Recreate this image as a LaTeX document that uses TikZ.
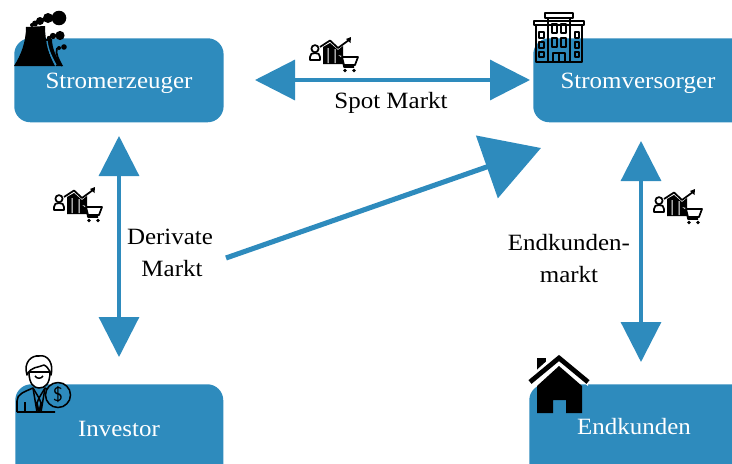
\documentclass[tikz,border=0pt]{standalone}
\usepackage{fontspec}
\setmainfont[FakeStretch=1.07]{Liberation Serif}
\usetikzlibrary{arrows.meta}
\definecolor{boxblue}{HTML}{2E8BBD}
\tikzset{
  x=0.75pt,y=-0.75pt,
  marketbox/.style={fill=boxblue,rounded corners=12pt,inner sep=0pt,anchor=north west},
  boxlabel/.style={text=white,font=\fontsize{17.5pt}{20pt}\selectfont,inner sep=0pt},
  blacklabel/.style={text=black,font=\fontsize{17.5pt}{20pt}\selectfont,inner sep=0pt},
  bigarrow/.style={draw=boxblue,line width=2.4pt,{Triangle[length=30pt,width=30pt,fill=boxblue]}-{Triangle[length=30pt,width=30pt,fill=boxblue]}},
  onearrow/.style={draw=boxblue,line width=3.8pt,-{Triangle[length=43pt,width=49pt,fill=boxblue]}},
  iconline/.style={draw=black,line width=1.15pt,line join=round},
  pics/market/.style={code={
    \draw[iconline,line width=1.3pt] (5,11.7) circle (3.6);
    \draw[iconline,line width=1.3pt] (0,23) -- (0,20) .. controls (0,17) and (2,16) .. (5,16) .. controls (8,16) and (10,17) .. (10,20) -- (10,23) -- cycle;
    \fill[black] (13,10) -- (20,6) -- (28,13) -- (33,9) -- (33,27) -- (13,27) -- cycle;
    \fill[white] (17.5,11) rectangle (18.5,26) (24.5,12) rectangle (25.5,26);
    \draw[iconline,line width=1.3pt] (10,10) -- (20,3.5) -- (28,11) -- (39,3);
    \fill[black] (41,0) -- (40.5,6) -- (36,2) -- cycle;
    \draw[iconline,line width=1.3pt,fill=white] (27,17) -- (32,18) -- (34,30) -- (44,30);
    \draw[iconline,line width=1.3pt,fill=white] (32,20) -- (48,20) -- (45,28) -- (34,28) -- cycle;
    \fill[black] (35,33.5) circle (1.9) (44,33.5) circle (1.9);
  }}
}
\begin{document}
\begin{tikzpicture}
\useasboundingbox (0,0) rectangle (732,464);
\clip (0,0) rectangle (732,464);
% boxes
\node[marketbox,minimum width=157pt,minimum height=63pt] (erz) at (14,38) {};
\node[marketbox,minimum width=165pt,minimum height=63pt] (ver) at (533,38) {};
\node[marketbox,minimum width=156pt,minimum height=75pt] (inv) at (15,384) {};
\node[marketbox,minimum width=168pt,minimum height=75pt] (end) at (529,384) {};
\node[boxlabel] (erzl) at (119,83) {Stromerzeuger};
\node[boxlabel] (verl) at (638,83) {Stromversorger};
\node[boxlabel] (invl) at (119,429) {Investor};
\node[boxlabel] (endl) at (634,427) {Endkunden};
% free connector ends
\coordinate (spotL) at (255,80);
\coordinate (spotR) at (530,80);
\coordinate (derT) at (119,136);
\coordinate (derB) at (119,357);
\coordinate (kunT) at (641,141);
\coordinate (kunB) at (641,362);
\coordinate (diaS) at (226,258);
\coordinate (diaE) at (541,148);
\draw[bigarrow] (spotL) -- (spotR);
\draw[bigarrow] (derT) -- (derB);
\draw[bigarrow] (kunT) -- (kunB);
\draw[onearrow] (diaS) -- (diaE);
% labels
\node[blacklabel] (spot) at (391,103) {Spot Markt};
\node[blacklabel] (der1) at (170,237) {Derivate};
\node[blacklabel] (der2) at (172,269) {Markt};
\node[blacklabel] (kun1) at (569,243) {Endkunden-};
\node[blacklabel] (kun2) at (569,275) {markt};
% market icons
\pic at (310,37) {market};
\pic at (54,187) {market};
\pic at (654,189) {market};
% power plant
\fill[black] (26,27) -- (45,26) .. controls (45,42) and (49,55) .. (55,66) -- (14,66) .. controls (21,55) and (26,42) .. (26,27) -- cycle;
\fill[black] (45,39) -- (52,39) .. controls (52,48) and (56,58) .. (63,66) -- (56,66) .. controls (53,57) and (47,50) .. (45,39) -- cycle;
\draw[boxblue,line width=1pt] (47,41) .. controls (48,50) and (52,58) .. (56,65);
\fill[black] (59,18) circle (7.3) (48,18) circle (5) (40,21) circle (4) (35,23.5) circle (3) (32,25) circle (2);
\fill[black] (60,35.5) circle (4.6) (53,36) circle (3.2) (49,38) circle (2.2);
\fill[black] (64,47) circle (2.8) (59,48) circle (2);
\draw[black,line width=1.3pt] (57,48) .. controls (55,54) and (59,60) .. (62,66);
% office building
\begin{scope}[iconline]
\draw (545,13) rectangle (573,18);
\draw (548,18) rectangle (570,62);
\draw (534,21) rectangle (584,25);
\draw (536,25) rectangle (548,62);
\draw (570,25) rectangle (582,62);
\draw (552,24) rectangle (557,33) (561,24) rectangle (566,33);
\draw (552,38) rectangle (557,47) (561,38) rectangle (566,47);
\draw (553,62) -- (553,53) -- (565,53) -- (565,62) (559,53) -- (559,62);
\draw (539,32) rectangle (544,38) (539,42) rectangle (544,48) (539,52) rectangle (544,57);
\draw (575,32) rectangle (579,38) (575,42) rectangle (579,48) (575,52) rectangle (579,57);
\end{scope}
% investor
\begin{scope}[iconline]
\draw[fill=white] (29,372) .. controls (29,384) and (34,388) .. (39,388) .. controls (45,388) and (50,384) .. (50,372) -- cycle;
\draw[fill=white] (27,375) .. controls (23,362) and (32,355) .. (39,356) .. controls (48,354) and (54,364) .. (51,375) .. controls (49,368) and (46,366) .. (44,365) .. controls (38,368) and (31,366) .. (27,375) -- cycle;
\draw (35,376) .. controls (37,379) and (41,379) .. (43,376);
\draw (17,412) -- (17,401) .. controls (17,394) and (24,392) .. (33,388) -- (39,398) -- (45,388) .. controls (48,390) and (52,391) .. (55,392) (17,412) -- (55,412);
\draw (25,402) -- (25,412) (33,388) -- (37,412) (45,388) -- (41,412) (39,398) -- (37,403) -- (39,412) -- (41,403) -- cycle;
\draw[fill=boxblue] (58,395) circle (12.5);
\end{scope}
\node[inner sep=0pt,text=black,font=\fontsize{15pt}{15pt}\sffamily] (dollar) at (58,395) {\$};
% house
\fill[black] (537,358) rectangle (546,370);
\fill[white] (530,386) -- (559,362) -- (588,386) -- (588,376) -- (559,350) -- (530,376) -- cycle;
\draw[black,line width=3.6pt] (530,382) -- (559,358) -- (588,382);
\fill[black] (559,366) -- (537,386) -- (537,413) -- (553,413) -- (553,400) -- (566,400) -- (566,413) -- (582,413) -- (582,386) -- cycle;
\end{tikzpicture}
\end{document}
